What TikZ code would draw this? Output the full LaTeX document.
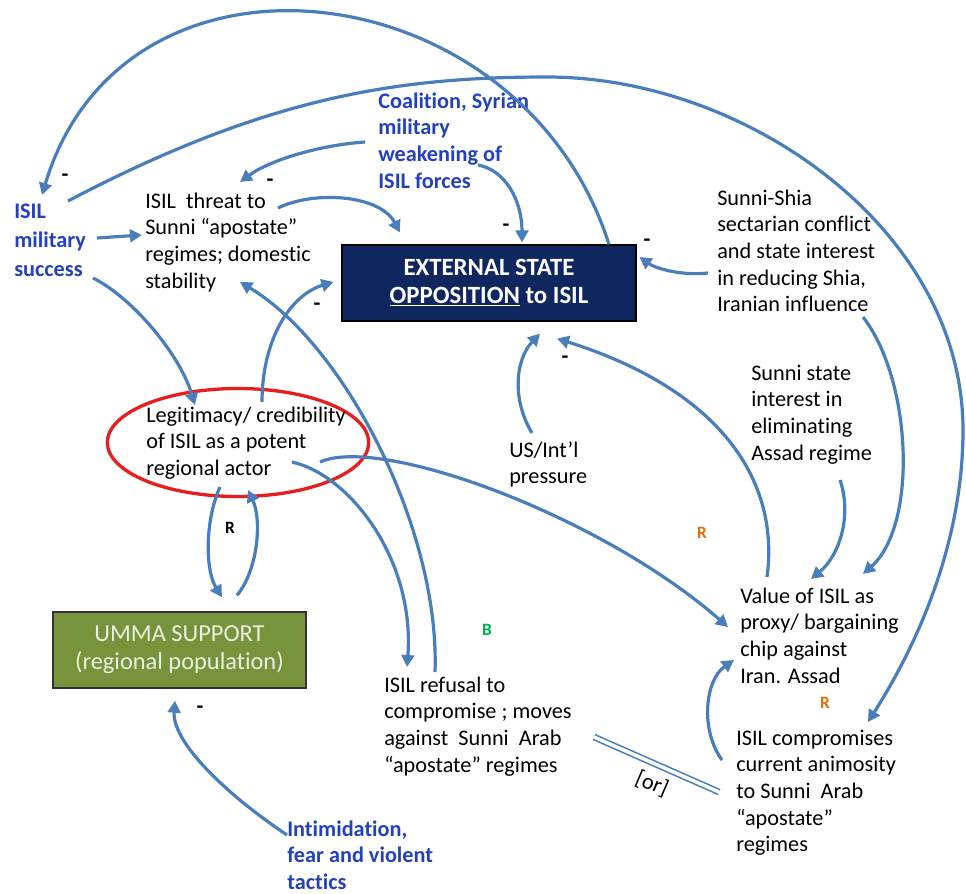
\documentclass[tikz,border=0pt]{standalone}
\usepackage{fontspec}
\setmainfont[Ligatures=NoCommon]{Carlito}
\usetikzlibrary{arrows.meta,shapes.geometric,calc}
\definecolor{arrblue}{RGB}{74,126,187}
\definecolor{txtblue}{RGB}{35,65,190}
\definecolor{navybox}{RGB}{16,38,94}
\definecolor{olivebox}{RGB}{119,147,60}
\definecolor{paleg}{RGB}{235,241,222}
\definecolor{redell}{RGB}{230,30,30}
\definecolor{orng}{RGB}{228,108,10}
\definecolor{grn}{RGB}{0,176,80}
\newcommand\myfs{\fontsize{16.7}{20}\selectfont}
\newcommand\tl[1]{\begin{tabular}[t]{@{}l@{}}#1\end{tabular}}
\begin{document}
\begin{tikzpicture}[x=0.75pt,y=-0.75pt,
 txt/.style={inner sep=0pt, anchor=base west, font=\myfs},
 bluetxt/.style={txt, font=\myfs\bfseries, text=txtblue},
 arr/.style={draw=arrblue, line width=2.4pt, -{Triangle[length=9pt,width=9.5pt]}},
 sgn/.style={font=\myfs\bfseries, inner sep=0pt},
 loopl/.style={font=\fontsize{13}{15}\selectfont\bfseries, inner sep=0pt}]
\useasboundingbox (0,0) rectangle (966,893);

% nodes
\node[bluetxt] (ms) at (14,218) {\tl{ISIL\\[2pt]military\\[2pt]success}};
\node[bluetxt] (co) at (378,108) {\tl{Coalition, Syrian\\military\\weakening of\\ISIL forces}};
\node[txt] (thr) at (145,208) {\tl{ISIL~ threat to\\Sunni “apostate”\\regimes; domestic\\stability}};
\node[draw=black, line width=0.8pt, fill=navybox, text=white, font=\fontsize{18.6}{21}\selectfont\bfseries,
      minimum width=220.5pt, minimum height=57pt, align=center] (ext) at (489,283)
      {EXTERNAL STATE\\\underline{OPPOSITION} to ISIL};
\node[txt] (ss) at (717,205) {\tl{Sunni-Shia\\sectarian conflict\\and state interest\\in reducing Shia,\\Iranian influence}};
\node[draw=redell, line width=2.5pt, ellipse, inner sep=0pt, minimum width=196pt, minimum height=81pt] (ell) at (238,442.5) {};
\node[txt] (leg) at (146,422) {\tl{Legitimacy/ credibility\\of ISIL as a potent\\regional actor}};
\node[draw=black!80, line width=1pt, fill=olivebox, text=paleg, font=\fontsize{18.3}{21}\selectfont,
      minimum width=189.75pt, minimum height=57pt, align=center] (umma) at (179.5,650)
      {UMMA SUPPORT\\(regional population)};
\node[txt] (us) at (509,457) {\tl{US/Int’l\\pressure}};
\node[txt] (ssi) at (751,380) {\tl{Sunni state\\interest in\\eliminating\\Assad regime}};
\node[txt] (val) at (740,603) {\tl{Value of ISIL as\\proxy/ bargaining\\chip against\\Iran. Assad}};
\node[txt] (ref) at (384,692) {\tl{ISIL refusal to\\compromise ; moves\\against~ Sunni~ Arab\\“apostate” regimes}};
\node[txt] (comp) at (736,745) {\tl{ISIL compromises\\current animosity\\to Sunni~ Arab\\“apostate”\\regimes}};
\node[bluetxt] (int) at (287,836) {\tl{Intimidation,\\fear and violent\\tactics}};

% polarity labels
\node[sgn] (m1) at (65,178) {-};
\node[sgn] (m2) at (270,183) {-};
\node[sgn] (m3) at (317,307) {-};
\node[sgn] (m4) at (506,228) {-};
\node[sgn] (m5) at (647,243) {-};
\node[sgn] (m6) at (565,360) {-};
\node[sgn] (m7) at (200,710) {-};
\node[loopl] (r1) at (230,528) {R};
\node[loopl, text=grn] (b1) at (487,630) {B};
\node[loopl, text=orng] (r2) at (702,533) {R};
\node[loopl, text=orng] (r3) at (825,703) {R};

% connectors
\draw[arr] ($(ext.north)+(120,0)$) .. controls (522,-30) and (124,-79) .. ($(ms.base west)+(28,-23)$);
\draw[arr] ($(ms.base west)+(54,-17)$) .. controls (266,97) and (397,77) .. (547,77)
   .. controls (747,77) and (963,230) .. (963,430)
   .. controls (963,530) and (927,629) .. ($(comp.base west)+(132,-23)$);
\draw[arr] ($(ms.base west)+(83,20)$) -- ($(thr.base west)+(-3,27)$);
\draw[arr] ($(ms.base west)+(79,60)$) .. controls (133,298) and (180,355) .. ($(ell.center)+(-43,-37.5)$);
\draw[arr] ($(co.base west)+(-13,34)$) .. controls (320,145) and (270,160) .. ($(thr.base west)+(95,-26)$);
\draw[arr] ($(co.base west)+(100,57)$) .. controls (505,170) and (522,200) .. ($(ext.north)+(33,-2)$);
\draw[arr] ($(thr.base west)+(133,0)$) .. controls (315,190) and (380,195) .. ($(ext.north)+(-89,-12)$);
\draw[arr] ($(ell.center)+(24,-40.5)$) .. controls (262,340) and (290,295) .. ($(ext.west)+(-8,-1)$);
\draw[arr] ($(ref.base west)+(51,-20)$) .. controls (440,530) and (345,345) .. ($(thr.base west)+(95,74)$);
\draw[arr] ($(leg.base west)+(146,40)$) .. controls (350,475) and (415,560) .. ($(ref.base west)+(23,-25)$);
\draw[arr] ($(ell.center)+(82,19.5)$) .. controls (380,435) and (600,515) .. ($(val.base west)+(-12,24)$);
\draw[arr] ($(ell.center)+(-18,44.5)$) .. controls (205,520) and (205,570) .. ($(umma.north)+(42.5,-14)$);
\draw[arr] ($(umma.north)+(57.5,-16)$) .. controls (258,570) and (262,520) .. ($(ell.center)+(10,47.5)$);
\draw[arr] ($(int.base west)+(0,-1)$) .. controls (220,790) and (172,740) .. ($(umma.south)+(-4.5,12)$);
\draw[arr] ($(us.base west)+(23,-24)$) .. controls (512,400) and (515,360) .. ($(ext.south)+(51,12)$);
\draw[arr] ($(val.base west)+(27,-26)$) .. controls (780,480) and (720,390) .. ($(ext.south)+(68,17)$);
\draw[arr] ($(ss.base west)+(-9,68)$) .. controls (680,276) and (655,268) .. ($(ext.east)+(3,-26)$);
\draw[arr] ($(ss.base west)+(146,112)$) .. controls (912,380) and (918,525) .. ($(val.base west)+(123,-29)$);
\draw[arr] ($(ssi.base west)+(89,100)$) .. controls (852,515) and (840,555) .. ($(val.base west)+(71,-24)$);
\draw[arr] ($(comp.base west)+(-14,15)$) .. controls (700,730) and (705,680) .. ($(val.base west)+(-6,57)$);

% [or] double line
\draw[draw=arrblue, line width=1.2pt, double=white, double distance=2.6pt]
  ($(ref.base west)+(210,45)$) -- ($(comp.base west)+(-17,47)$);
\node[font=\myfs, rotate=-23, inner sep=0pt] (or1) at (652,784) {[or]};
\end{tikzpicture}
\end{document}
